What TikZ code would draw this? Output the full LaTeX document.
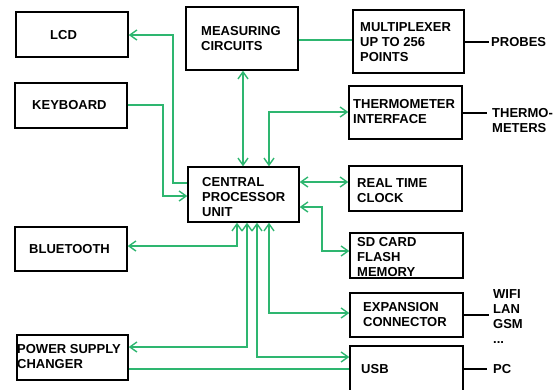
\documentclass[tikz,border=0pt]{standalone}
\usepackage{fontspec}
\setmainfont{Liberation Sans}
\usetikzlibrary{arrows.meta}
\definecolor{lgreen}{RGB}{46,182,112}
\begin{document}
\begin{tikzpicture}[x=1pt,y=-1pt,
  blk/.style={draw=black,line width=1.4pt,inner sep=0pt},
  txt/.style={inner sep=0pt,anchor=west,align=left,font=\fontsize{13}{15}\selectfont\bfseries},
  gline/.style={draw=lgreen,line width=1.4pt,>={Straight Barb[length=7pt,width=10pt]}},
  bline/.style={draw=black,line width=1.4pt}]
\useasboundingbox (0,0) rectangle (558,389);
\clip (0,0) rectangle (558,389);
% boxes
\node[blk,minimum width=112pt,minimum height=45pt] (lcd) at (72,34.5) {};
\node[blk,minimum width=112pt,minimum height=45pt] (kbd) at (71,105.5) {};
\node[blk,minimum width=112pt,minimum height=63pt] (meas) at (242,38.5) {};
\node[blk,minimum width=111pt,minimum height=63pt] (mux) at (408.5,41.5) {};
\node[blk,minimum width=113pt,minimum height=53pt] (therm) at (405.5,112.5) {};
\node[blk,minimum width=113pt,minimum height=45pt] (rtc) at (405.5,188.5) {};
\node[blk,minimum width=111pt,minimum height=55pt] (cpu) at (243.5,194.5) {};
\node[blk,minimum width=113pt,minimum height=45pt] (sd) at (406.5,255.5) {};
\node[blk,minimum width=113pt,minimum height=44pt] (exp) at (406.5,315) {};
\node[blk,minimum width=113pt,minimum height=50pt] (usb) at (406.5,371) {};
\node[blk,minimum width=112pt,minimum height=44pt] (bt) at (71,249) {};
\node[blk,minimum width=111pt,minimum height=45pt] (psu) at (72.5,357.5) {};
% texts
\node[txt] (lcdt) at (50,35) {LCD};
\node[txt] (kbdt) at (32,105) {KEYBOARD};
\node[txt] (meast) at (201,39) {MEASURING\\CIRCUITS};
\node[txt] (muxt) at (360,42) {MULTIPLEXER\\UP TO 256\\POINTS};
\node[txt] (thermt) at (353,111.5) {THERMOMETER\\INTERFACE};
\node[txt] (rtct) at (357,190.5) {REAL TIME\\CLOCK};
\node[txt] (cput) at (202,197) {CENTRAL\\PROCESSOR\\UNIT};
\node[txt] (sdt) at (357,257) {SD CARD\\FLASH\\MEMORY};
\node[txt] (expt) at (363,314.5) {EXPANSION\\CONNECTOR};
\node[txt] (usbt) at (361,369) {USB};
\node[txt] (btt) at (29,249) {BLUETOOTH};
\node[txt] (psut) at (17,357) {POWER SUPPLY\\CHANGER};
\node[txt] (probes) at (491,42.5) {PROBES};
\node[txt] (thermo) at (492,120.5) {THERMO-\\METERS};
\node[txt] (wifi) at (493,316.5) {WIFI\\LAN\\GSM\\...};
\node[txt] (pc) at (493,369) {PC};
% black lines
\draw[bline,shorten >=2pt] (mux.east |- 0,42) -- (probes.west |- 0,42);
\draw[bline,shorten >=5pt] (therm.east |- 0,113) -- (thermo.west |- 0,113);
\draw[bline,shorten >=4pt] (exp.east |- 0,315) -- (wifi.west |- 0,315);
\draw[bline,shorten >=6pt] (usb.east |- 0,369) -- (pc.west |- 0,369);
% green connectors
\draw[gline,<-] (lcd.east |- 0,35) -- (173,35) -- (173,183) -- (cpu.west |- 0,183);
\draw[gline,->] (kbd.east |- 0,105) -- (163,105) -- (163,196) -- (cpu.west |- 0,196);
\draw[gline,<->] (243,0 |- meas.south) -- (243,0 |- cpu.north);
\draw[gline,<->] (269,0 |- cpu.north) |- (therm.west |- 0,112);
\draw[gline] (meas.east |- 0,40) -- (mux.west |- 0,40);
\draw[gline,<->] (cpu.east |- 0,182) -- (rtc.west |- 0,182);
\draw[gline,<->] (cpu.east |- 0,207) -| (322,251) -- (sd.west |- 0,251);
\draw[gline,<->] (237,0 |- cpu.south) |- (bt.east |- 0,246);
\draw[gline,<->] (247,0 |- cpu.south) |- (psu.east |- 0,347);
\draw[gline,<->] (257,0 |- cpu.south) |- (usb.west |- 0,357);
\draw[gline,<->] (269,0 |- cpu.south) |- (exp.west |- 0,313);
\draw[gline] (psu.east |- 0,369) -- (usb.west |- 0,369);
\end{tikzpicture}
\end{document}
